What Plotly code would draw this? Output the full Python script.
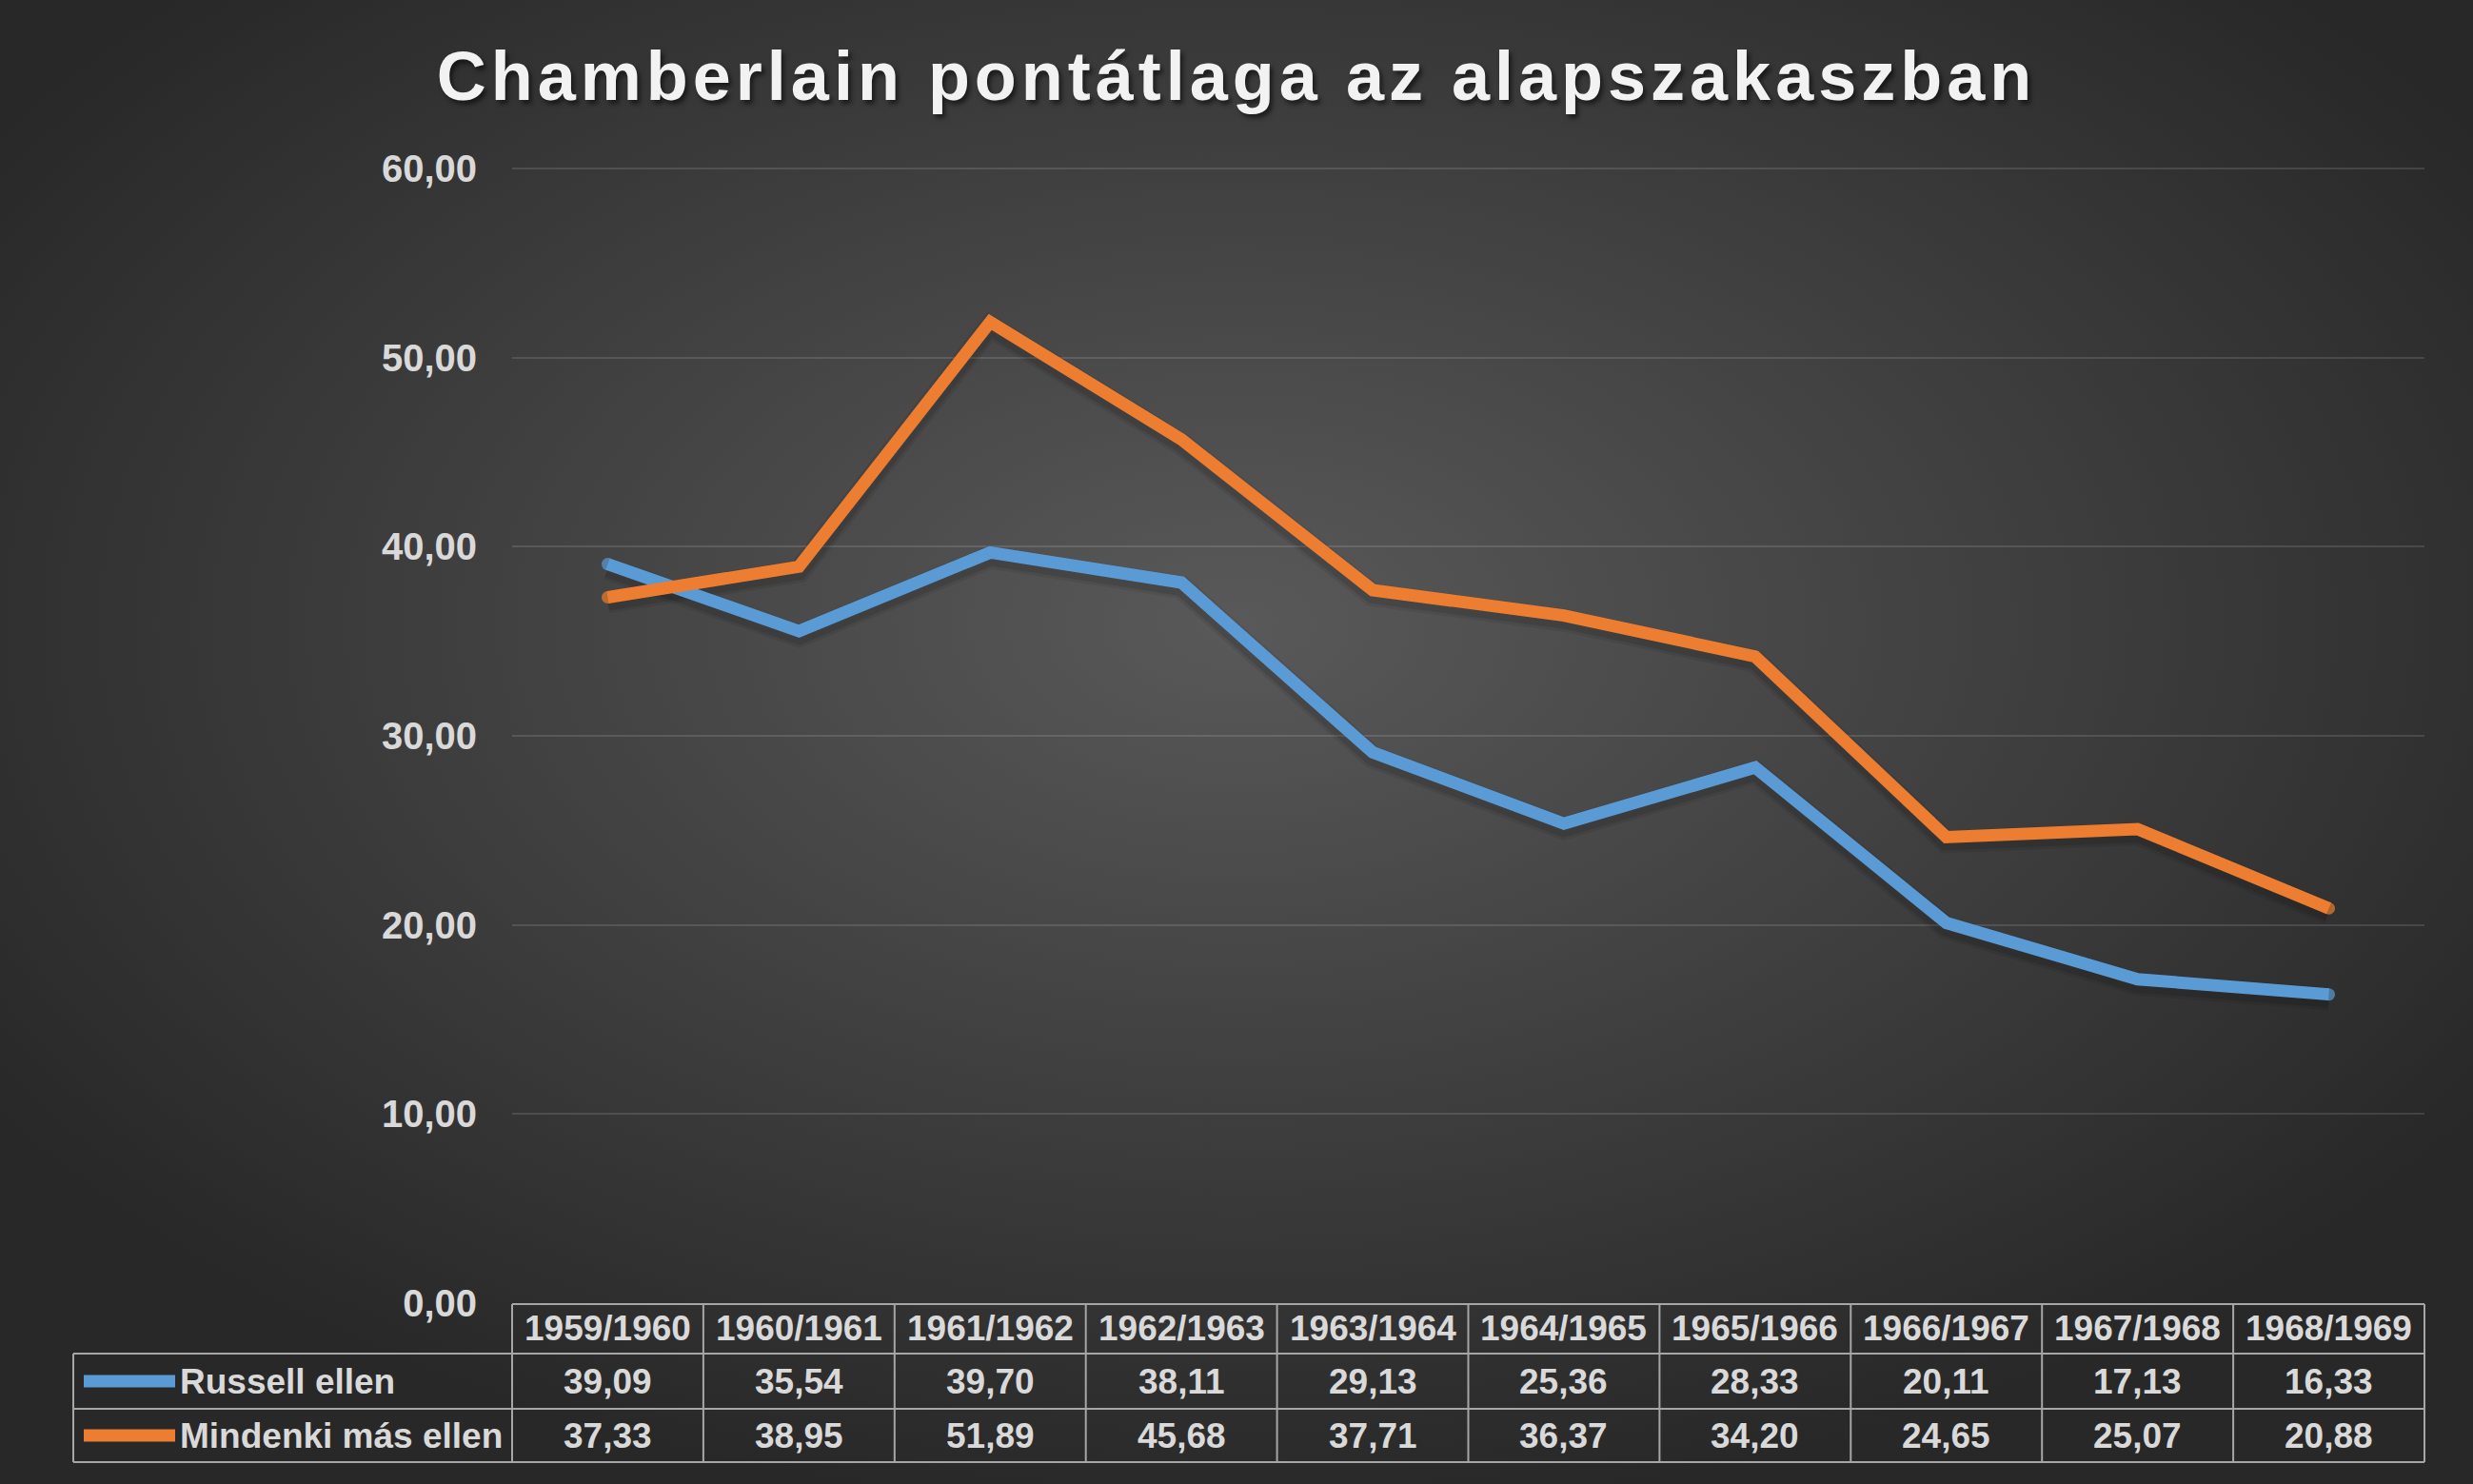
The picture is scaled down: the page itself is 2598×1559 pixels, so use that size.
import base64
import plotly.graph_objects as go

# ---- data ----
seasons = ["1959/1960", "1960/1961", "1961/1962", "1962/1963", "1963/1964",
           "1964/1965", "1965/1966", "1966/1967", "1967/1968", "1968/1969"]
russell = [39.09, 35.54, 39.70, 38.11, 29.13, 25.36, 28.33, 20.11, 17.13, 16.33]
others = [37.33, 38.95, 51.89, 45.68, 37.71, 36.37, 34.20, 24.65, 25.07, 20.88]
series_names = ["Russell ellen", "Mindenki más ellen"]
series_colors = ["#5B9BD5", "#ED7D31"]
y_ticks = [0, 10, 20, 30, 40, 50, 60]
y_tick_text = ["0,00", "10,00", "20,00", "30,00", "40,00", "50,00", "60,00"]
title_text = "Chamberlain pontátlaga az alapszakaszban"

W, H = 2598, 1559
ML, MR, MT, MB = 538, 51, 176, 190
PW = W - ML - MR
PH = H - MT - MB
Y_MAX = 60.06

FONT = "Liberation Sans, Arial, sans-serif"
TXT = "#d9d9d9"
GRID_T = "#a6a6a6"
TBL_SIZE = 37


def fmt(v):
    return f"{v:.2f}".replace(".", ",")


def px_to_py(p):
    return (H - MB - p) / PH


def px_to_px(p):
    return (p - ML) / PW


# background radial gradient
svg = (
    f'<svg xmlns="http://www.w3.org/2000/svg" width="{W}" height="{H}" viewBox="0 0 {W} {H}" preserveAspectRatio="none">'
    '<defs><radialGradient id="g" cx="0.5" cy="0.42" r="0.6" gradientUnits="objectBoundingBox">'
    '<stop offset="0" stop-color="#595959"/><stop offset="1" stop-color="#282828"/></radialGradient></defs>'
    f'<rect x="0" y="0" width="{W}" height="{H}" fill="url(#g)"/></svg>'
)
bg_src = "data:image/svg+xml;base64," + base64.b64encode(svg.encode()).decode()

fig = go.Figure()

shadow_shift = 5 * Y_MAX / PH
series = [russell, others]
# soft shadows on the (hidden) base axis, drawn beneath the overlay
for vals in series:
    for w, a in [(24, 0.07), (18, 0.10)]:
        fig.add_trace(go.Scatter(
            x=seasons, y=vals, mode="lines", yaxis="y",
            line=dict(color=f"rgba(0,0,0,{a})", width=w),
            hoverinfo="skip", showlegend=False))
for name, vals, col in zip(series_names, series, series_colors):
    n = len(vals)
    fig.add_trace(go.Scatter(
        x=seasons, y=vals, mode="lines+markers", name=name, yaxis="y2",
        line=dict(color=col, width=13),
        marker=dict(color=col, size=[13] + [0] * (n - 2) + [13], line=dict(width=0)),
        showlegend=False))

# ---- table ----
shapes = []
ann = []
y_top = px_to_py(1370)
y_r1 = px_to_py(1422)
y_r2 = px_to_py(1480)
y_bot = px_to_py(1536)
x_left = px_to_px(77)
ncol = len(seasons)


def hline(x0, x1, y):
    shapes.append(dict(type="line", xref="paper", yref="paper", x0=x0, x1=x1, y0=y, y1=y,
                       line=dict(color=GRID_T, width=2)))


def vline(x, y0, y1):
    shapes.append(dict(type="line", xref="paper", yref="paper", x0=x, x1=x, y0=y0, y1=y1,
                       line=dict(color=GRID_T, width=2)))


hline(0, 1, y_top)
hline(x_left, 1, y_r1)
hline(x_left, 1, y_r2)
hline(x_left, 1, y_bot)
for k in range(ncol + 1):
    vline(k / ncol, y_top, y_bot)
vline(x_left, y_r1, y_bot)

row_centers = [(y_r1 + y_r2) / 2, (y_r2 + y_bot) / 2]
hdr_center = (y_top + y_r1) / 2
for s in seasons:
    ann.append(dict(x=s, xref="x", y=hdr_center, yref="paper", text=s, showarrow=False,
                    font=dict(family=FONT, size=TBL_SIZE, color=TXT, weight="bold"),
                    xanchor="center", yanchor="middle"))
for rc, vals, name, col in zip(row_centers, series, series_names, series_colors):
    for s, v in zip(seasons, vals):
        ann.append(dict(x=s, xref="x", y=rc, yref="paper", text=fmt(v), showarrow=False,
                        font=dict(family=FONT, size=TBL_SIZE, color=TXT, weight="bold"),
                        xanchor="center", yanchor="middle"))
    ann.append(dict(x=px_to_px(187), xref="paper", y=rc, yref="paper", text=name, showarrow=False,
                    font=dict(family=FONT, size=TBL_SIZE, color=TXT, weight="bold"),
                    xanchor="left", yanchor="middle"))
    shapes.append(dict(type="line", xref="paper", yref="paper",
                       x0=px_to_px(88), x1=px_to_px(184), y0=rc, y1=rc,
                       line=dict(color=col, width=13)))

fig.update_layout(
    width=W, height=H, autosize=False,
    margin=dict(l=ML, r=MR, t=MT, b=MB),
    paper_bgcolor="#282828",
    plot_bgcolor="rgba(0,0,0,0)",
    images=[dict(source=bg_src, xref="paper", yref="paper",
                 x=-ML / PW, y=1 + MT / PH, sizex=W / PW, sizey=H / PH,
                 xanchor="left", yanchor="top", sizing="stretch", layer="below")],
    title=dict(
        text=f'<span style="letter-spacing:5px">{title_text}</span>',
        x=0.5, xref="container", xanchor="center",
        y=1 - 80 / H, yref="container", yanchor="middle",
        font=dict(family=FONT, size=72, color="#f2f2f2", weight="bold",
                  shadow="3px 4px 5px rgba(0,0,0,0.55)")),
    xaxis=dict(type="category", range=[-0.5, ncol - 0.5], showgrid=False,
               showticklabels=False, showline=False, zeroline=False, ticks=""),
    yaxis=dict(range=[shadow_shift, Y_MAX + shadow_shift], visible=False,
               showgrid=False, zeroline=False),
    yaxis2=dict(range=[0, Y_MAX], overlaying="y", side="left",
                tickvals=y_ticks, ticktext=y_tick_text,
                showgrid=True, gridcolor="rgba(255,255,255,0.12)", gridwidth=2,
                zeroline=False, showline=False, ticks="", ticklabelstandoff=36,
                tickfont=dict(family=FONT, size=40, color=TXT, weight="bold")),
    shapes=shapes,
    annotations=ann,
    showlegend=False,
)

fig.write_html("out.html")
